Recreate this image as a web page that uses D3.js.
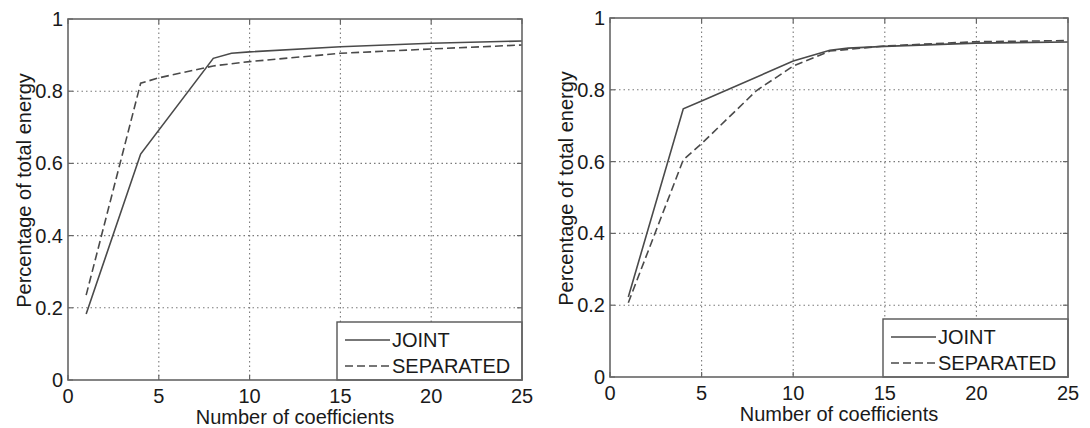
<!DOCTYPE html>
<html>
<head>
<meta charset="utf-8">
<script src="https://cdn.jsdelivr.net/npm/d3@7"></script>
<style>
  body { margin: 0; background: #fff; }
  svg { display: block; font-family: "Liberation Sans", Arial, sans-serif; }
  .grid line { stroke: #7a7a7a; stroke-width: 1.1; stroke-dasharray: 1.5,3; }
  .frame { fill: none; stroke: #666; stroke-width: 1.6; }
  .tick-label { font-size: 20px; fill: #1a1a1a; }
  .axis-title { font-size: 20px; fill: #1a1a1a; }
  .legend-text { font-size: 20px; fill: #1a1a1a; }
</style>
</head>
<body>
<svg id="chart" width="1090" height="428"></svg>
<script>
// axis ticks
var xTicks = [0, 5, 10, 15, 20, 25];
var yTicks = [0, 0.2, 0.4, 0.6, 0.8, 1];
var seriesNames = ["JOINT", "SEPARATED"];

// left panel
var leftJointX = [1, 4, 8, 9, 10, 15, 20, 25];
var leftJointY = [0.183, 0.626, 0.891, 0.905, 0.909, 0.923, 0.933, 0.939];
var leftSepX = [1, 4, 5, 8, 10, 15, 20, 25];
var leftSepY = [0.235, 0.822, 0.837, 0.870, 0.882, 0.905, 0.917, 0.928];

// right panel
var rightJointX = [1, 4, 5, 10, 12, 13, 15, 20, 25];
var rightJointY = [0.223, 0.747, 0.769, 0.880, 0.910, 0.916, 0.921, 0.930, 0.933];
var rightSepX = [1, 4, 5, 8, 10, 12, 15, 20, 25];
var rightSepY = [0.207, 0.605, 0.650, 0.798, 0.866, 0.908, 0.922, 0.934, 0.937];

var svg = d3.select("#chart");
svg.append("rect").attr("width", 1090).attr("height", 428).attr("fill", "#fff");

var panels = [
    { left: 68, right: 522, top: 19, bottom: 380,
      joint: leftJointX.map((c, i) => ({ c: c, v: leftJointY[i] })),
      sep: leftSepX.map((c, i) => ({ c: c, v: leftSepY[i] })) },
    { left: 610, right: 1068, top: 18, bottom: 377,
      joint: rightJointX.map((c, i) => ({ c: c, v: rightJointY[i] })),
      sep: rightSepX.map((c, i) => ({ c: c, v: rightSepY[i] })) }
];

panels.forEach(p => {
    var x = d3.scaleLinear().domain([0, 25]).range([p.left, p.right]),
        y = d3.scaleLinear().domain([0, 1]).range([p.bottom, p.top]);

    var g = svg.append("g");

    // dotted grid
    var grid = g.append("g").attr("class", "grid");
    grid.selectAll(".gx")
        .data(xTicks.slice(1, -1))
        .enter().append("line")
        .attr("x1", d => x(d)).attr("x2", d => x(d))
        .attr("y1", p.top).attr("y2", p.bottom);
    grid.selectAll(".gy")
        .data(yTicks.slice(1, -1))
        .enter().append("line")
        .attr("y1", d => y(d)).attr("y2", d => y(d))
        .attr("x1", p.left).attr("x2", p.right);

    // inward ticks on all four sides
    var tickLen = 5;
    var ticks = g.append("g").attr("stroke", "#666").attr("stroke-width", 1.2);
    xTicks.forEach(t => {
        ticks.append("line").attr("x1", x(t)).attr("x2", x(t)).attr("y1", p.bottom).attr("y2", p.bottom - tickLen);
        ticks.append("line").attr("x1", x(t)).attr("x2", x(t)).attr("y1", p.top).attr("y2", p.top + tickLen);
    });
    yTicks.forEach(t => {
        ticks.append("line").attr("y1", y(t)).attr("y2", y(t)).attr("x1", p.left).attr("x2", p.left + tickLen);
        ticks.append("line").attr("y1", y(t)).attr("y2", y(t)).attr("x1", p.right).attr("x2", p.right - tickLen);
    });

    // tick labels
    g.selectAll(".xl")
        .data(xTicks)
        .enter().append("text")
        .attr("class", "tick-label")
        .attr("x", d => x(d))
        .attr("y", p.bottom + 23)
        .attr("text-anchor", "middle")
        .text(d => d);
    g.selectAll(".yl")
        .data(yTicks)
        .enter().append("text")
        .attr("class", "tick-label")
        .attr("x", p.left - 5)
        .attr("y", d => y(d))
        .attr("dy", "0.35em")
        .attr("text-anchor", "end")
        .text(d => d3.format("")(d));

    // axis titles
    g.append("text")
        .attr("class", "axis-title")
        .attr("x", (p.left + p.right) / 2)
        .attr("y", p.bottom + 44)
        .attr("text-anchor", "middle")
        .text("Number of coefficients");
    g.append("text")
        .attr("class", "axis-title")
        .attr("transform", "translate(" + (p.left - 37) + "," + ((p.top + p.bottom) / 2 - 9) + ") rotate(-90)")
        .attr("text-anchor", "middle")
        .text("Percentage of total energy");

    // lines
    var line = d3.line().x(d => x(d.c)).y(d => y(d.v));
    g.append("path")
        .datum(p.joint)
        .attr("fill", "none")
        .attr("stroke", "#4a4a4a")
        .attr("stroke-width", 1.6)
        .attr("d", line);
    g.append("path")
        .datum(p.sep)
        .attr("fill", "none")
        .attr("stroke", "#4a4a4a")
        .attr("stroke-width", 1.6)
        .attr("stroke-dasharray", "8,4")
        .attr("d", line);

    // legend box in the lower right corner
    var lx = p.right - 185, ly = p.bottom - 58;
    var legend = g.append("g");
    legend.append("rect")
        .attr("x", lx).attr("y", ly)
        .attr("width", p.right - lx).attr("height", p.bottom - ly)
        .attr("fill", "#fff").attr("stroke", "#555").attr("stroke-width", 1.4);
    seriesNames.forEach((name, i) => {
        var cy = ly + 18 + i * 26;
        legend.append("line")
            .attr("x1", lx + 8).attr("x2", lx + 53)
            .attr("y1", cy).attr("y2", cy)
            .attr("stroke", "#4a4a4a").attr("stroke-width", 1.4)
            .attr("stroke-dasharray", i === 1 ? "8,4" : null);
        legend.append("text")
            .attr("class", "legend-text")
            .attr("x", lx + 55)
            .attr("y", cy)
            .attr("dy", "0.36em")
            .text(name);
    });

    // frame
    g.append("rect")
        .attr("class", "frame")
        .attr("x", p.left).attr("y", p.top)
        .attr("width", p.right - p.left).attr("height", p.bottom - p.top);
});
</script>
</body>
</html>
